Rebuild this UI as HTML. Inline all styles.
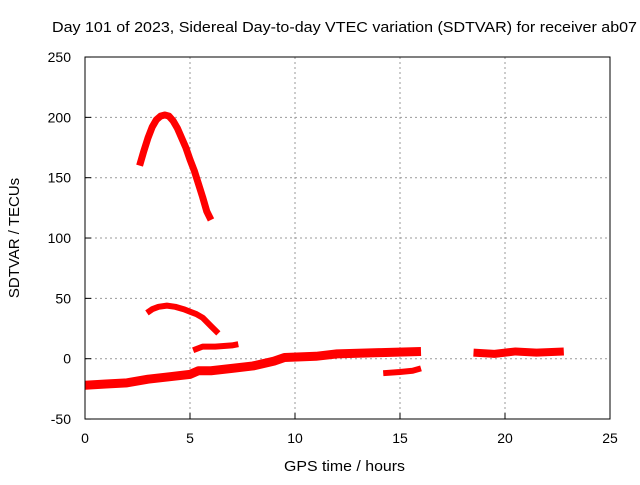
<!DOCTYPE html>
<html><head><meta charset="utf-8"><style>
body{margin:0;background:#fff}
svg text{font-family:"Liberation Sans",sans-serif;font-size:14px;fill:#000}
</style></head><body>
<svg id="c" width="640" height="480">
<text x="52" y="32" textLength="585" lengthAdjust="spacingAndGlyphs" style="font-size:15px">Day 101 of 2023, Sidereal Day-to-day VTEC variation (SDTVAR) for receiver ab07</text>
<text x="284" y="471" textLength="121" lengthAdjust="spacingAndGlyphs" style="font-size:15px">GPS time / hours</text>
<text transform="translate(19,238) rotate(-90)" text-anchor="middle" style="font-size:15px">SDTVAR / TECUs</text>
<g id="grid"></g><g id="series"></g>
<rect x="85" y="57" width="525" height="362" fill="none" stroke="#000"/>
</svg>
<script>
const xTicks=[0,5,10,15,20,25];
const yTicks=[-50,0,50,100,150,200,250];
const segAHours=[2.6,2.8,3.0,3.2,3.4,3.6,3.8,4.0,4.2,4.4,4.6,4.8,5.0,5.2,5.4,5.6,5.8,6.0];
const segAValues=[160,172,183,192,198,201,202,201,197,191,183,175,165,156,145,134,122,115];
const segBHours=[2.95,3.2,3.5,3.9,4.3,4.7,5.0,5.3,5.6,6.0,6.35];
const segBValues=[38,41,43,44,43,41,39,37,34,27,21];
const segCHours=[5.15,5.6,6.2,7.0,7.3];
const segCValues=[7,10,10,11,12];
const segDHours=[0,1,2,3,4,5,5.4,6,7,8,9,9.5,11,12,14,16];
const segDValues=[-22,-21,-20,-17,-15,-13,-10,-10,-8,-6,-2,1,2,4,5,6];
const segEHours=[14.2,15,15.6,16];
const segEValues=[-12,-11,-10,-8];
const segFHours=[18.5,19.5,20.5,21.5,22.8];
const segFValues=[5,4,6,5,6];
const X=t=>85+t*21, Y=v=>358.7-v*1.2067;
const ns="http://www.w3.org/2000/svg";
const g=document.getElementById('grid'), s=document.getElementById('series'), svg=document.getElementById('c');
xTicks.forEach(t=>{
 if(t>0&&t<25){const l=document.createElementNS(ns,'line');
 
 
 l.setAttribute('x1',X(t));l.setAttribute('x2',X(t));l.setAttribute('y1',57);l.setAttribute('y2',419);
 l.setAttribute('stroke','#999');l.setAttribute('stroke-dasharray','2,3');g.appendChild(l);}
 const tk=document.createElementNS(ns,'line');
 
 
 tk.setAttribute('x1',X(t));tk.setAttribute('x2',X(t));tk.setAttribute('y1',419);tk.setAttribute('y2',413);tk.setAttribute('stroke','#000');g.appendChild(tk);
 const tx=document.createElementNS(ns,'text');
 
 
 tx.setAttribute('x',X(t));tx.setAttribute('y',443);tx.setAttribute('text-anchor','middle');tx.textContent=t;svg.appendChild(tx);
});
yTicks.forEach(v=>{
 if(v>-50&&v<250){const l=document.createElementNS(ns,'line');
 
 
 l.setAttribute('x1',85);l.setAttribute('x2',610);l.setAttribute('y1',Y(v));l.setAttribute('y2',Y(v));
 l.setAttribute('stroke','#999');l.setAttribute('stroke-dasharray','2,3');g.appendChild(l);}
 const tk=document.createElementNS(ns,'line');
 
 
 tk.setAttribute('x1',85);tk.setAttribute('x2',91);tk.setAttribute('y1',Y(v));tk.setAttribute('y2',Y(v));tk.setAttribute('stroke','#000');g.appendChild(tk);
 const tx=document.createElementNS(ns,'text');
 
 
 tx.setAttribute('x',71);tx.setAttribute('y',Y(v)+5);tx.setAttribute('text-anchor','end');tx.textContent=v;svg.appendChild(tx);
});
function seg(h,v,w,name){
 const p=document.createElementNS(ns,'polyline');
 
 
 p.setAttribute('points',h.map((t,i)=>X(t)+','+Y(v[i])).join(' '));
 p.setAttribute('fill','none');p.setAttribute('stroke','#f00');p.setAttribute('stroke-width',w);
 p.setAttribute('stroke-linejoin','round');s.appendChild(p);
}
seg(segAHours,segAValues,7,'series-arc-high');
seg(segBHours,segBValues,6,'series-arc-mid');
seg(segCHours,segCValues,6,'series-segment-c');
seg(segDHours,segDValues,9,'series-base');
seg(segEHours,segEValues,6,'series-segment-e');
seg(segFHours,segFValues,8,'series-segment-f');
</script>
</body></html>
